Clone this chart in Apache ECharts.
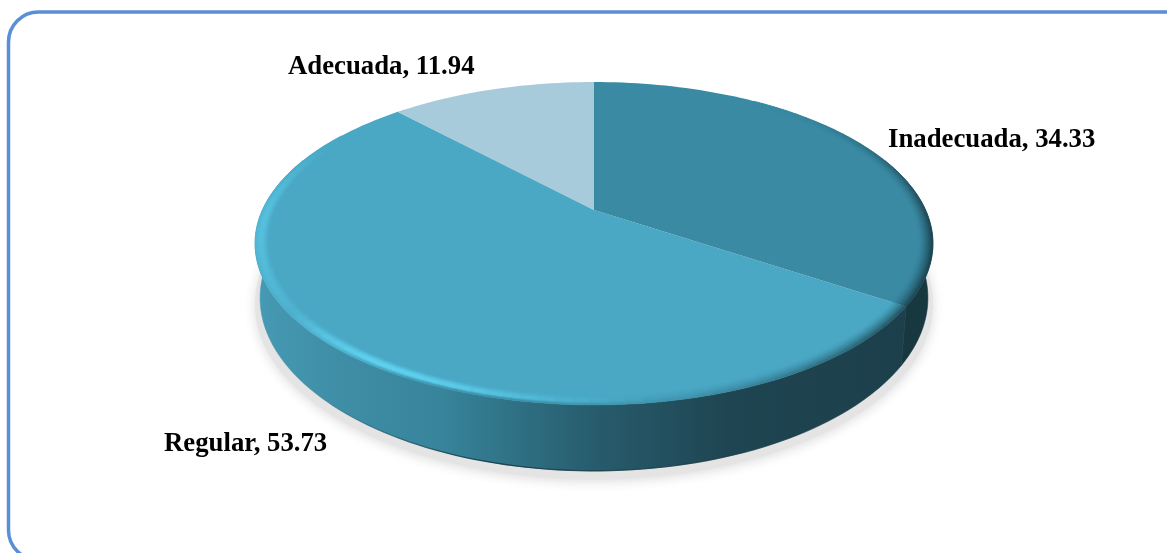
<!DOCTYPE html>
<html>
<head>
<meta charset="utf-8">
<style>
html,body{margin:0;padding:0;background:#fff}
#chart{width:1167px;height:553px}
</style>
<script src="https://cdn.jsdelivr.net/npm/echarts@6/dist/echarts.min.js"></script>
</head>
<body>
<div id="chart"></div>
<script>
// Calidad percibida: porcentaje por categoría
const categories = ['Inadecuada', 'Regular', 'Adecuada'];
const percentages = [34.33, 53.73, 11.94];

// Appearance of each slice
const topColors = ['#3A8AA4', '#4AA8C5', '#A8CBDB'];
const labelAnchors = [[888, 140], [164, 444], [288, 67]];

// Disc geometry: a tilted circle seen in perspective
const APEX = [594, 210];
const RX = 331.6, RY = 154.5, PERSP = 0.2074;
const FLOOR = { drop: 52, sx: 0.985, sy: 1.071 };
const SHADOW = { drop: 58, sx: 1.0, sy: 1.085 };
const FRONT_RANGE = [70, 290];
const RIM_DEPTH = 0.042, RIM_RINGS = 9, STEP_DEG = 2.5;

const total = percentages.reduce((a, b) => a + b, 0);
const sliceAngles = [];
percentages.reduce((acc, v) => {
  const next = acc + v / total * 360;
  sliceAngles.push([acc, next]);
  return next;
}, 0);

const TOP = { drop: 0, sx: 1, sy: 1 };
// Projects a point given clockwise from twelve o'clock on the disc
function project(deg, r, plane = TOP) {
  const t = deg * Math.PI / 180;
  const u = r * Math.sin(t), v = r * Math.cos(t);
  const w = 1 + PERSP * v;
  return [APEX[0] + RX * plane.sx * u / w, APEX[1] + plane.drop - RY * plane.sy * v / w];
}
function arc(a0, a1, r, plane = TOP) {
  const n = Math.max(2, Math.ceil(Math.abs(a1 - a0) / 1.5));
  const pts = [];
  for (let i = 0; i <= n; i++) pts.push(project(a0 + (a1 - a0) * i / n, r, plane));
  return pts;
}
function hex(c) { return [1, 3, 5].map(i => parseInt(c.substr(i, 2), 16)); }
function mix(a, b, t) { return a.map((x, i) => x + (b[i] - x) * t); }
function css(c) { return 'rgb(' + c.map(Math.round).join(',') + ')'; }
function bump(x, lo, peak, hi) {
  if (x <= lo || x >= hi) return 0;
  const t = x < peak ? (x - lo) / (peak - lo) : (hi - x) / (hi - peak);
  return t * t * (3 - 2 * t);
}

const wallFills = [
  '#18383F',
  new echarts.graphic.LinearGradient(262, 0, 926, 0, [
    { offset: 0, color: '#4699B3' },
    { offset: 0.1, color: '#408FA8' },
    { offset: 0.27, color: '#37849B' },
    { offset: 0.5, color: '#275C6D' },
    { offset: 0.7, color: '#1F4552' },
    { offset: 1, color: '#1C3F4A' }
  ], true),
  '#4AA8C5'
];
// Dark contact line along the underside, fading out towards both ends
const floorEdge = new echarts.graphic.LinearGradient(300, 0, 880, 0, [
  { offset: 0, color: 'rgba(20,55,68,0)' },
  { offset: 0.3, color: 'rgba(20,55,68,0.85)' },
  { offset: 0.8, color: 'rgba(20,55,68,0.6)' },
  { offset: 1, color: 'rgba(20,55,68,0)' }
], true);

function renderShadow(params) {
  if (params.dataIndex !== 0) return;
  return {
    type: 'polygon',
    shape: { points: arc(0, 360, 1, SHADOW) },
    style: { fill: '#e4e4e4', shadowBlur: 12, shadowColor: 'rgba(0,0,0,0.14)', shadowOffsetY: 2 }
  };
}

function renderWall(params) {
  const fill = wallFills[params.dataIndex];
  const a0 = Math.max(sliceAngles[params.dataIndex][0], FRONT_RANGE[0]);
  const a1 = Math.min(sliceAngles[params.dataIndex][1], FRONT_RANGE[1]);
  if (a1 <= a0) return;
  const upper = arc(a0, a1, 1);
  const lower = arc(a0, a1, 1, FLOOR);
  return {
    type: 'group',
    children: [
      { type: 'polygon', shape: { points: upper.concat(lower.slice().reverse()) },
        style: { fill, stroke: fill, lineWidth: 0.6 } },
      { type: 'polyline', shape: { points: lower },
        style: { fill: null, stroke: floorEdge, lineWidth: 1.3 } }
    ]
  };
}

function renderTop(params) {
  const i = params.dataIndex;
  const [a0, a1] = sliceAngles[i];
  const base = hex(topColors[i]);
  const bright = [98, 214, 244], dark = [24, 58, 68];
  const children = [{
    type: 'polygon',
    shape: { points: [APEX].concat(arc(a0, a1, 1)) },
    style: { fill: topColors[i] }
  }];
  if (i === 2) return { type: 'group', children };
  // Bevelled rim: lit towards the lower left, shaded towards the right
  const n = Math.ceil((a1 - a0) / STEP_DEG);
  for (let s = 0; s < n; s++) {
    const d0 = a0 + (a1 - a0) * s / n, d1 = a0 + (a1 - a0) * (s + 1) / n;
    const mid = (d0 + d1) / 2;
    const lit = Math.max(bump(mid, 170, 212, 245) * 0.95, bump(mid, 205, 268, 302) * 0.55);
    const shade = bump(mid, 35, 105, 195);
    const sideFade = bump(mid, 165, 195, 235);
    if (lit === 0 && shade === 0 && sideFade === 0) continue;
    for (let k = 0; k < RIM_RINGS; k++) {
      const t0 = k / RIM_RINGS, t1 = (k + 1) / RIM_RINGS, tm = (t0 + t1) / 2;
      const r0 = 1 - RIM_DEPTH * (1 - t0), r1 = 1 - RIM_DEPTH * (1 - t1);
      let c = mix(base, bright, lit * bump(tm, 0, 0.6, 1.4));
      c = mix(c, dark, shade * Math.pow(tm, 1.5) * 0.95);
      if (tm > 0.75) c = mix(c, [44, 116, 138], sideFade * (tm - 0.75) * 3);
      const fill = css(c);
      children.push({
        type: 'polygon',
        shape: { points: [project(d0, r0), project(d1, r0), project(d1, r1), project(d0, r1)] },
        style: { fill, stroke: fill, lineWidth: 0.5 }
      });
    }
  }
  return { type: 'group', children };
}

function renderLabel(params, api) {
  const i = params.dataIndex;
  return {
    type: 'text',
    x: labelAnchors[i][0],
    y: labelAnchors[i][1],
    style: {
      text: categories[i] + ', ' + api.value(1).toFixed(2),
      fill: '#000',
      font: 'bold 26.75px "Liberation Serif", "Times New Roman", serif',
      textAlign: 'left',
      textVerticalAlign: 'middle'
    }
  };
}

const sliceData = percentages.map((v, i) => [i, v]);
const layer = (renderItem, z) => ({
  type: 'custom', coordinateSystem: 'none', data: sliceData,
  renderItem, z, animation: false, silent: true
});

const chart = echarts.init(document.getElementById('chart'), null, { renderer: 'canvas' });
chart.setOption({
  backgroundColor: '#fff',
  animation: false,
  graphic: [{
    type: 'rect', silent: true, z: 0,
    shape: { x: 8.5, y: 12, width: 1200, height: 548, r: 30 },
    style: { fill: '#fff', stroke: '#5A8FD8', lineWidth: 3.5 }
  }],
  series: [
    layer(renderShadow, 1),
    layer(renderWall, 2),
    layer(renderTop, 3),
    layer(renderLabel, 4)
  ]
});
</script>
</body>
</html>
